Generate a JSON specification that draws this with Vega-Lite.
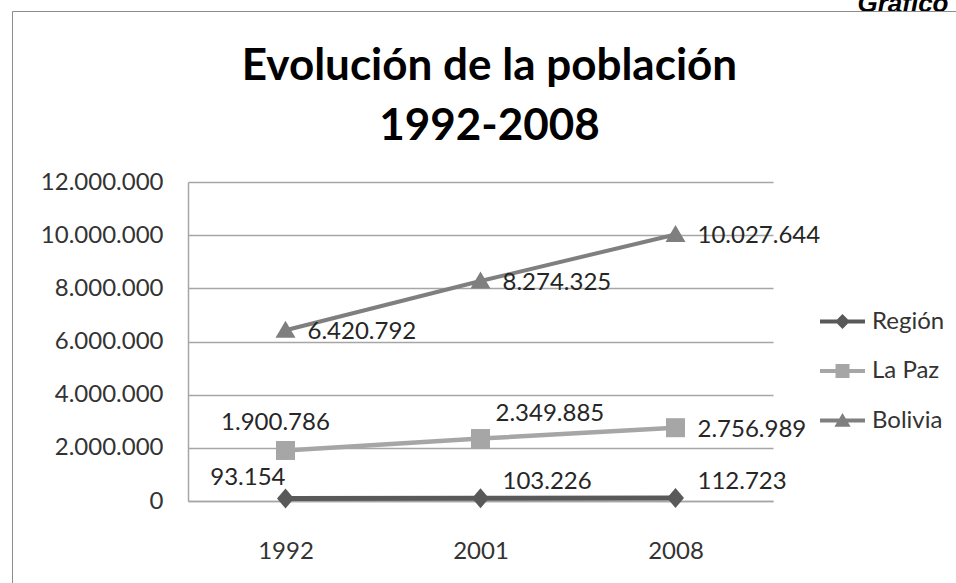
{
  "$schema": "https://vega.github.io/schema/vega-lite/v6.json",
  "width": 585,
  "height": 319,
  "autosize": {"type": "none"},
  "padding": {"left": 188, "top": 182, "right": 183, "bottom": 82},
  "background": "#ffffff",
  "config": {
    "font": "Lato",
    "view": {"stroke": null},
    "locale": {"number": {"decimal": ",", "thousands": ".", "grouping": [3], "currency": ["", " €"]}}
  },
  "title": {
    "text": ["Evolución de la población", "1992-2008"],
    "font": "Lato",
    "fontSize": 44,
    "fontWeight": "bold",
    "color": "#000000",
    "lineHeight": 60,
    "anchor": "middle",
    "frame": "group",
    "baseline": "bottom",
    "dx": 9,
    "offset": -203
  },
  "data": {
    "values": [
      {"serie": "Región", "anio": "1992", "valor": 93154},
      {"serie": "Región", "anio": "2001", "valor": 103226},
      {"serie": "Región", "anio": "2008", "valor": 112723},
      {"serie": "La Paz", "anio": "1992", "valor": 1900786},
      {"serie": "La Paz", "anio": "2001", "valor": 2349885},
      {"serie": "La Paz", "anio": "2008", "valor": 2756989},
      {"serie": "Bolivia", "anio": "1992", "valor": 6420792},
      {"serie": "Bolivia", "anio": "2001", "valor": 8274325},
      {"serie": "Bolivia", "anio": "2008", "valor": 10027644}
    ]
  },
  "encoding": {
    "x": {
      "field": "anio", "type": "ordinal", "sort": ["1992", "2001", "2008"],
      "scale": {"type": "point", "padding": 0.5},
      "axis": {
        "title": null, "labelAngle": 0, "ticks": false, "domain": true,
        "domainColor": "#a6a6a6", "domainWidth": 1.5, "grid": false,
        "labelFont": "Lato", "labelFontSize": 24, "labelColor": "#333333", "labelPadding": 38
      }
    },
    "y": {
      "field": "valor", "type": "quantitative",
      "scale": {"domain": [0, 12000000], "nice": false},
      "axis": {
        "values": [0, 2000000, 4000000, 6000000, 8000000, 10000000, 12000000],
        "format": ",d",
        "title": "Gráfico",
        "titleAngle": 0, "titleX": 760, "titleY": -171, "titleAlign": "right",
        "titleBaseline": "alphabetic", "titleFont": "Liberation Sans", "titleFontSize": 26,
        "titleFontWeight": "bold", "titleFontStyle": "italic", "titleColor": "#000000",
        "ticks": false, "domain": true, "domainColor": "#a6a6a6", "domainWidth": 1.5,
        "grid": true, "gridColor": "#a6a6a6", "gridWidth": 1.5,
        "labelFont": "Lato", "labelFontSize": 24, "labelColor": "#333333", "labelPadding": 25
      }
    }
  },
  "layer": [
    {
      "mark": {"type": "line"},
      "encoding": {
        "color": {"field": "serie", "type": "nominal", "legend": null,
          "scale": {"domain": ["Región", "La Paz", "Bolivia"], "range": ["#595959", "#a6a6a6", "#7f7f7f"]}},
        "strokeWidth": {"field": "serie", "type": "nominal", "legend": null,
          "scale": {"domain": ["Región", "La Paz", "Bolivia"], "range": [5, 4, 4]}}
      }
    },
    {
      "mark": {"type": "point", "filled": true, "opacity": 1, "size": 400},
      "encoding": {
        "color": {"field": "serie", "type": "nominal", "legend": null,
          "scale": {"domain": ["Región", "La Paz", "Bolivia"], "range": ["#595959", "#a6a6a6", "#7f7f7f"]}},
        "shape": {"field": "serie", "type": "nominal", "legend": null,
          "scale": {"domain": ["Región", "La Paz", "Bolivia"],
            "range": ["M0,-1L0.85,0L0,1L-0.85,0Z", "M-0.95,-0.95H0.95V0.95H-0.95Z", "M0,-0.95L1,0.75L-1,0.75Z"]}}
      }
    },
    {
      "transform": [{"filter": "false"}],
      "mark": {"type": "point", "filled": true, "opacity": 1},
      "encoding": {
        "color": {"field": "serie", "type": "nominal",
          "scale": {"domain": ["Región", "La Paz", "Bolivia"], "range": ["#595959", "#a6a6a6", "#7f7f7f"]},
          "legend": {"title": null, "orient": "none", "legendX": 632, "legendY": 117,
            "symbolSize": 2025, "symbolStrokeWidth": 0, "symbolOpacity": 1, "rowPadding": 14.5,
            "labelFont": "Lato", "labelFontSize": 24, "labelColor": "#333333", "labelOffset": 7, "padding": 0}},
        "shape": {"field": "serie", "type": "nominal",
          "scale": {"domain": ["Región", "La Paz", "Bolivia"],
            "range": ["M-1,-0.09H1V0.09H-1Z M0,-0.33L0.33,0L0,0.33L-0.33,0Z", "M-1,-0.09H1V0.09H-1Z M-0.31,-0.31H0.31V0.31H-0.31Z", "M-1,-0.09H1V0.09H-1Z M0,-0.33L0.36,0.28L-0.36,0.28Z"]},
          "legend": {"title": null, "orient": "none", "legendX": 632, "legendY": 117,
            "symbolSize": 2025, "symbolStrokeWidth": 0, "symbolOpacity": 1, "rowPadding": 14.5,
            "labelFont": "Lato", "labelFontSize": 24, "labelColor": "#333333", "labelOffset": 7, "padding": 0}}
      }
    },
    {
      "transform": [{"filter": "false"}],
      "mark": {"type": "point", "filled": true, "opacity": 1},
      "encoding": {
        "size": {"field": "valor", "type": "quantitative", "scale": {"domain": [0, 1]},
          "legend": {"title": null, "orient": "none", "legendX": -176, "legendY": -171,
            "values": [1], "padding": 700, "strokeColor": "#8c8c8c",
            "symbolOpacity": 0, "symbolStrokeWidth": 0, "labelOpacity": 0, "labelExpr": "''"}}
      }
    },
    {
      "transform": [{"filter": "datum.serie === 'Bolivia' || (datum.serie === 'La Paz' && datum.anio === '2008')"}],
      "mark": {"type": "text", "align": "left", "baseline": "alphabetic", "dx": 22, "dy": 9, "font": "Lato", "fontSize": 24, "color": "#262626"},
      "encoding": {"text": {"field": "valor", "type": "quantitative", "format": ",d"}}
    },
    {
      "transform": [{"filter": "datum.serie === 'Región' && datum.anio !== '1992'"}],
      "mark": {"type": "text", "align": "left", "baseline": "alphabetic", "dx": 22, "dy": -9, "font": "Lato", "fontSize": 24, "color": "#262626"},
      "encoding": {"text": {"field": "valor", "type": "quantitative", "format": ",d"}}
    },
    {
      "transform": [{"filter": "datum.serie === 'Región' && datum.anio === '1992'"}],
      "mark": {"type": "text", "align": "right", "baseline": "alphabetic", "dx": 0, "dy": -14, "font": "Lato", "fontSize": 24, "color": "#262626"},
      "encoding": {"text": {"field": "valor", "type": "quantitative", "format": ",d"}}
    },
    {
      "transform": [{"filter": "datum.serie === 'La Paz' && datum.anio === '1992'"}],
      "mark": {"type": "text", "align": "center", "baseline": "alphabetic", "dx": -10, "dy": -20, "font": "Lato", "fontSize": 24, "color": "#262626"},
      "encoding": {"text": {"field": "valor", "type": "quantitative", "format": ",d"}}
    },
    {
      "transform": [{"filter": "datum.serie === 'La Paz' && datum.anio === '2001'"}],
      "mark": {"type": "text", "align": "left", "baseline": "alphabetic", "dx": 15, "dy": -18, "font": "Lato", "fontSize": 24, "color": "#262626"},
      "encoding": {"text": {"field": "valor", "type": "quantitative", "format": ",d"}}
    }
  ],
  "resolve": {"scale": {"color": "independent", "shape": "independent", "strokeWidth": "independent", "size": "independent"}}
}
